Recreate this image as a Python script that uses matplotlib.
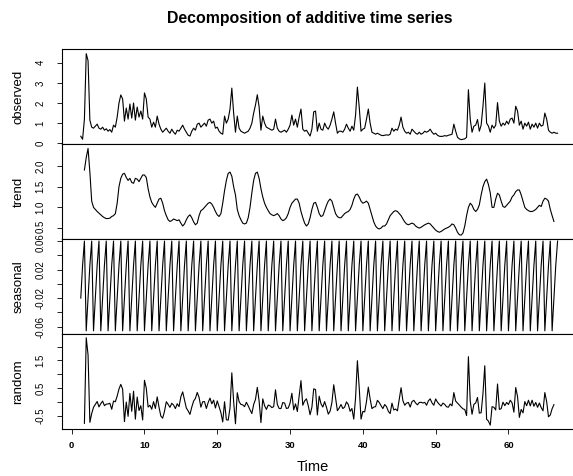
import numpy as np
import matplotlib.pyplot as plt
import matplotlib.transforms as mtransforms

plt.rcParams['font.family'] = ['Liberation Sans', 'DejaVu Sans']

# serie: 4 campioni per unita' di tempo, inizio a t = 1.25
t_start = 1.25
freq = 4

observed = [
    0.35, 0.20, 1.20,
    4.45, 4.10, 1.15, 0.80,   # 2
    0.75, 0.85, 0.95, 0.75,   # 3
    0.70, 0.80, 0.65, 0.72,   # 4
    0.60, 0.68, 0.55, 0.90,   # 5
    0.80, 1.30, 2.00, 2.40,   # 6
    2.20, 1.10, 1.75, 1.20,   # 7
    1.95, 1.25, 2.00, 1.15,   # 8
    1.80, 1.30, 1.60, 1.20,   # 9
    2.50, 2.20, 1.30, 1.20,   # 10
    0.80, 1.05, 0.80, 1.35,   # 11
    0.95, 0.70, 0.55, 0.65,   # 12
    0.75, 0.60, 0.50, 0.70,   # 13
    0.55, 0.45, 0.65, 0.60,   # 14
    0.75, 0.90, 0.70, 0.55,   # 15
    0.40, 0.36, 0.60, 0.75,   # 16
    0.65, 0.95, 1.00, 0.80,   # 17
    0.90, 1.00, 0.85, 1.15,   # 18
    1.20, 1.00, 1.10, 0.75,   # 19
    0.80, 0.60, 0.50, 0.45,   # 20
    1.35, 1.00, 1.20, 1.70,   # 21
    2.74, 1.50, 0.55, 1.35,   # 22
    0.75, 0.60, 0.55, 0.50,   # 23
    0.55, 0.60, 0.75, 1.00,   # 24
    1.50, 1.90, 2.41, 1.80,   # 25
    0.65, 1.35, 1.00, 0.80,   # 26
    0.75, 0.70, 0.65, 0.70,   # 27
    1.20, 0.75, 0.60, 0.55,   # 28
    0.60, 0.65, 0.55, 0.70,   # 29
    0.90, 1.40, 0.90, 1.20,   # 30
    0.80, 1.30, 1.70, 0.70,   # 31
    0.60, 0.65, 0.50, 0.36,   # 32
    0.70, 1.56, 1.60, 0.60,   # 33
    1.00, 0.70, 0.65, 1.00,   # 34
    0.80, 0.70, 0.90, 1.20,   # 35
    1.56, 1.00, 0.50, 0.60,   # 36
    0.60, 0.55, 0.70, 0.95,   # 37
    0.75, 0.60, 0.85, 0.65,   # 38
    1.40, 2.79, 1.80, 0.60,   # 39
    0.70, 0.75, 1.20, 1.70,   # 40
    1.00, 0.55, 0.50, 0.45,   # 41
    0.50, 0.45, 0.40, 0.38,   # 42
    0.40, 0.42, 0.40, 0.45,   # 43
    0.75, 0.60, 0.70, 0.65,   # 44
    0.90, 1.30, 0.80, 0.60,   # 45
    0.50, 0.55, 0.45, 0.70,   # 46
    0.60, 0.50, 0.45, 0.55,   # 47
    0.45, 0.50, 0.60, 0.55,   # 48
    0.60, 0.70, 0.55, 0.45,   # 49
    0.50, 0.40, 0.35, 0.34,   # 50
    0.35, 0.38, 0.36, 0.40,   # 51
    0.42, 0.45, 0.95, 0.60,   # 52
    0.30, 0.22, 0.18, 0.20,   # 53
    0.22, 0.30, 2.66, 1.20,   # 54
    0.55, 0.85, 0.90, 1.18,   # 55
    0.60, 0.90, 1.84, 2.99,   # 56
    1.00, 0.85, 0.55, 0.90,   # 57
    0.75, 0.90, 2.02, 1.10,   # 58
    0.85, 1.00, 0.90, 1.10,   # 59
    0.95, 1.20, 1.25, 1.00,   # 60
    1.84, 1.60, 0.90, 1.10,   # 61
    0.70, 1.00, 0.85, 1.05,   # 62
    0.70, 0.95, 0.80, 1.00,   # 63
    0.75, 1.00, 0.85, 0.90,   # 64
    1.50, 1.20, 0.65, 0.55,   # 65
    0.50, 0.55, 0.50, 0.50,   # 66
]

# trend: parte da t = 1.75 (due campioni mancanti ai bordi)
trend = [
    1.90,
    2.20, 2.42, 1.85, 1.15,   # 2
    1.00, 0.95, 0.90, 0.86,   # 3
    0.82, 0.78, 0.75, 0.73,   # 4
    0.73, 0.74, 0.78, 0.80,   # 5
    0.85, 1.10, 1.50, 1.70,   # 6
    1.80, 1.82, 1.72, 1.65,   # 7
    1.70, 1.60, 1.58, 1.70,   # 8
    1.68, 1.62, 1.70, 1.78,   # 9
    1.78, 1.72, 1.45, 1.25,   # 10
    1.12, 1.05, 1.00, 1.10,   # 11
    1.20, 1.22, 1.10, 0.92,   # 12
    0.80, 0.70, 0.66, 0.68,   # 13
    0.72, 0.70, 0.68, 0.70,   # 14
    0.62, 0.55, 0.60, 0.70,   # 15
    0.78, 0.82, 0.75, 0.65,   # 16
    0.58, 0.62, 0.80, 0.92,   # 17
    0.95, 1.00, 1.05, 1.10,   # 18
    1.12, 1.08, 1.00, 0.90,   # 19
    0.82, 0.78, 0.85, 1.10,   # 20
    1.40, 1.65, 1.82, 1.85,   # 21
    1.75, 1.50, 1.30, 0.95,   # 22
    0.80, 0.70, 0.62, 0.60,   # 23
    0.62, 0.75, 1.00, 1.35,   # 24
    1.65, 1.82, 1.85, 1.70,   # 25
    1.45, 1.25, 1.10, 1.00,   # 26
    0.92, 0.85, 0.82, 0.80,   # 27
    0.82, 0.85, 0.80, 0.72,   # 28
    0.68, 0.70, 0.75, 0.85,   # 29
    1.00, 1.10, 1.15, 1.20,   # 30
    1.20, 1.10, 0.90, 0.75,   # 31
    0.62, 0.55, 0.60, 0.75,   # 32
    0.95, 1.10, 1.12, 1.00,   # 33
    0.85, 0.78, 0.80, 0.92,   # 34
    1.05, 1.15, 1.20, 1.15,   # 35
    1.00, 0.85, 0.78, 0.75,   # 36
    0.75, 0.80, 0.85, 0.88,   # 37
    0.90, 0.95, 1.05, 1.20,   # 38
    1.30, 1.32, 1.25, 1.15,   # 39
    1.10, 1.12, 1.15, 1.10,   # 40
    0.95, 0.80, 0.65, 0.55,   # 41
    0.50, 0.48, 0.50, 0.55,   # 42
    0.55, 0.60, 0.70, 0.80,   # 43
    0.85, 0.90, 0.92, 0.90,   # 44
    0.85, 0.80, 0.72, 0.65,   # 45
    0.60, 0.58, 0.60, 0.62,   # 46
    0.60, 0.55, 0.52, 0.50,   # 47
    0.52, 0.55, 0.58, 0.60,   # 48
    0.62, 0.60, 0.55, 0.50,   # 49
    0.45, 0.42, 0.40, 0.42,   # 50
    0.45, 0.48, 0.50, 0.52,   # 51
    0.55, 0.60, 0.58, 0.50,   # 52
    0.40, 0.34, 0.33, 0.38,   # 53
    0.55, 0.80, 1.00, 1.10,   # 54
    1.05, 0.95, 0.90, 0.95,   # 55
    1.06, 1.30, 1.50, 1.62,   # 56
    1.68, 1.55, 1.35, 1.00,   # 57
    1.00, 1.20, 1.34, 1.30,   # 58
    1.15, 1.02, 1.00, 1.05,   # 59
    1.10, 1.15, 1.25, 1.30,   # 60
    1.38, 1.42, 1.42, 1.30,   # 61
    1.15, 1.00, 0.95, 0.92,   # 62
    0.90, 0.90, 0.92, 0.95,   # 63
    1.00, 1.05, 1.02, 1.15,   # 64
    1.22, 1.20, 1.15, 0.95,   # 65
    0.80, 0.66,               # 66
]

# figura stagionale (un periodo, posizioni .00 .25 .50 .75)
season_cycle = [-0.066, -0.020, 0.026, 0.060]

n = len(observed)
time = t_start + np.arange(n) / freq
obs = np.array(observed)
seasonal = np.array([season_cycle[(i + 1) % freq] for i in range(n)])
trend_full = np.full(n, np.nan)
trend_full[2:2 + len(trend)] = trend
random = obs - trend_full - seasonal

# limiti e tick dei pannelli
panels = [
    ('observed', obs, (-0.05, 4.665), [0, 1, 2, 3, 4], ['0', '1', '2', '3', '4']),
    ('trend', trend_full, (0.23, 2.52), [0.5, 1.0, 1.5, 2.0], ['0.5', '1.0', '1.5', '2.0']),
    ('seasonal', seasonal, (-0.0709, 0.0625),
     [-0.06, -0.04, -0.02, 0.0, 0.02, 0.04, 0.06],
     ['-0.06', '', '-0.02', '', '0.02', '', '0.06']),
    ('random', random, (-0.975, 2.44), [-0.5, 0.0, 0.5, 1.0, 1.5, 2.0],
     ['-0.5', '', '0.5', '', '1.5', '']),
]

W, H = 573, 476
f1 = plt.figure(figsize=(W / 100, H / 100), dpi=100)
f1.text(310 / W, 1 - 18 / H, 'Decomposition of additive time series',
        ha='center', va='center', fontsize=11.4, fontweight='bold')

left, right = 61.7, 577.6
top, bottom = 49.3, 429.3
ph = (bottom - top) / 4
axes = []
for k, (name, y, ylim, ticks, labels) in enumerate(panels):
    y0 = top + k * ph
    ax = f1.add_axes([left / W, 1 - (y0 + ph) / H, (right - left) / W, ph / H])
    ax.plot(time, y, color='black', lw=0.8)
    ax.set_xlim(-1.37, 69.5)
    ax.set_ylim(*ylim)
    ax.set_yticks(ticks)
    ax.set_yticklabels(labels, rotation=90, va='center')
    ax.tick_params(axis='y', length=3.6, width=0.6, pad=8.0, labelsize=6.9)
    for s in ax.spines.values():
        s.set_linewidth(0.8)
    if k < 3:
        ax.set_xticks([])
    else:
        ax.set_xticks([0, 10, 20, 30, 40, 50, 60])
        ax.tick_params(axis='x', length=3.6, width=0.6, pad=5.0, labelsize=6.8)
        for lb in ax.get_xticklabels():
            lb.set_fontweight('bold')
    f1.text(18.5 / W, 1 - (y0 + ph / 2) / H, name, rotation=90,
            ha='center', va='center', fontsize=9.5)
    axes.append(ax)

# piccolo scostamento per non sovrapporre "0.5" (trend) e "0.06" (seasonal)
lab_trend = axes[1].get_yticklabels()[0]
lab_trend.set_transform(lab_trend.get_transform() +
                        mtransforms.ScaledTranslation(0, 1.8 / 100, f1.dpi_scale_trans))
lab_seas = axes[2].get_yticklabels()[-1]
lab_seas.set_transform(lab_seas.get_transform() +
                       mtransforms.ScaledTranslation(0, -1.8 / 100, f1.dpi_scale_trans))

f1.text(313 / W, 1 - 466.7 / H, 'Time', ha='center', va='center', fontsize=10.5)

f1.savefig('out.png', dpi=100)
